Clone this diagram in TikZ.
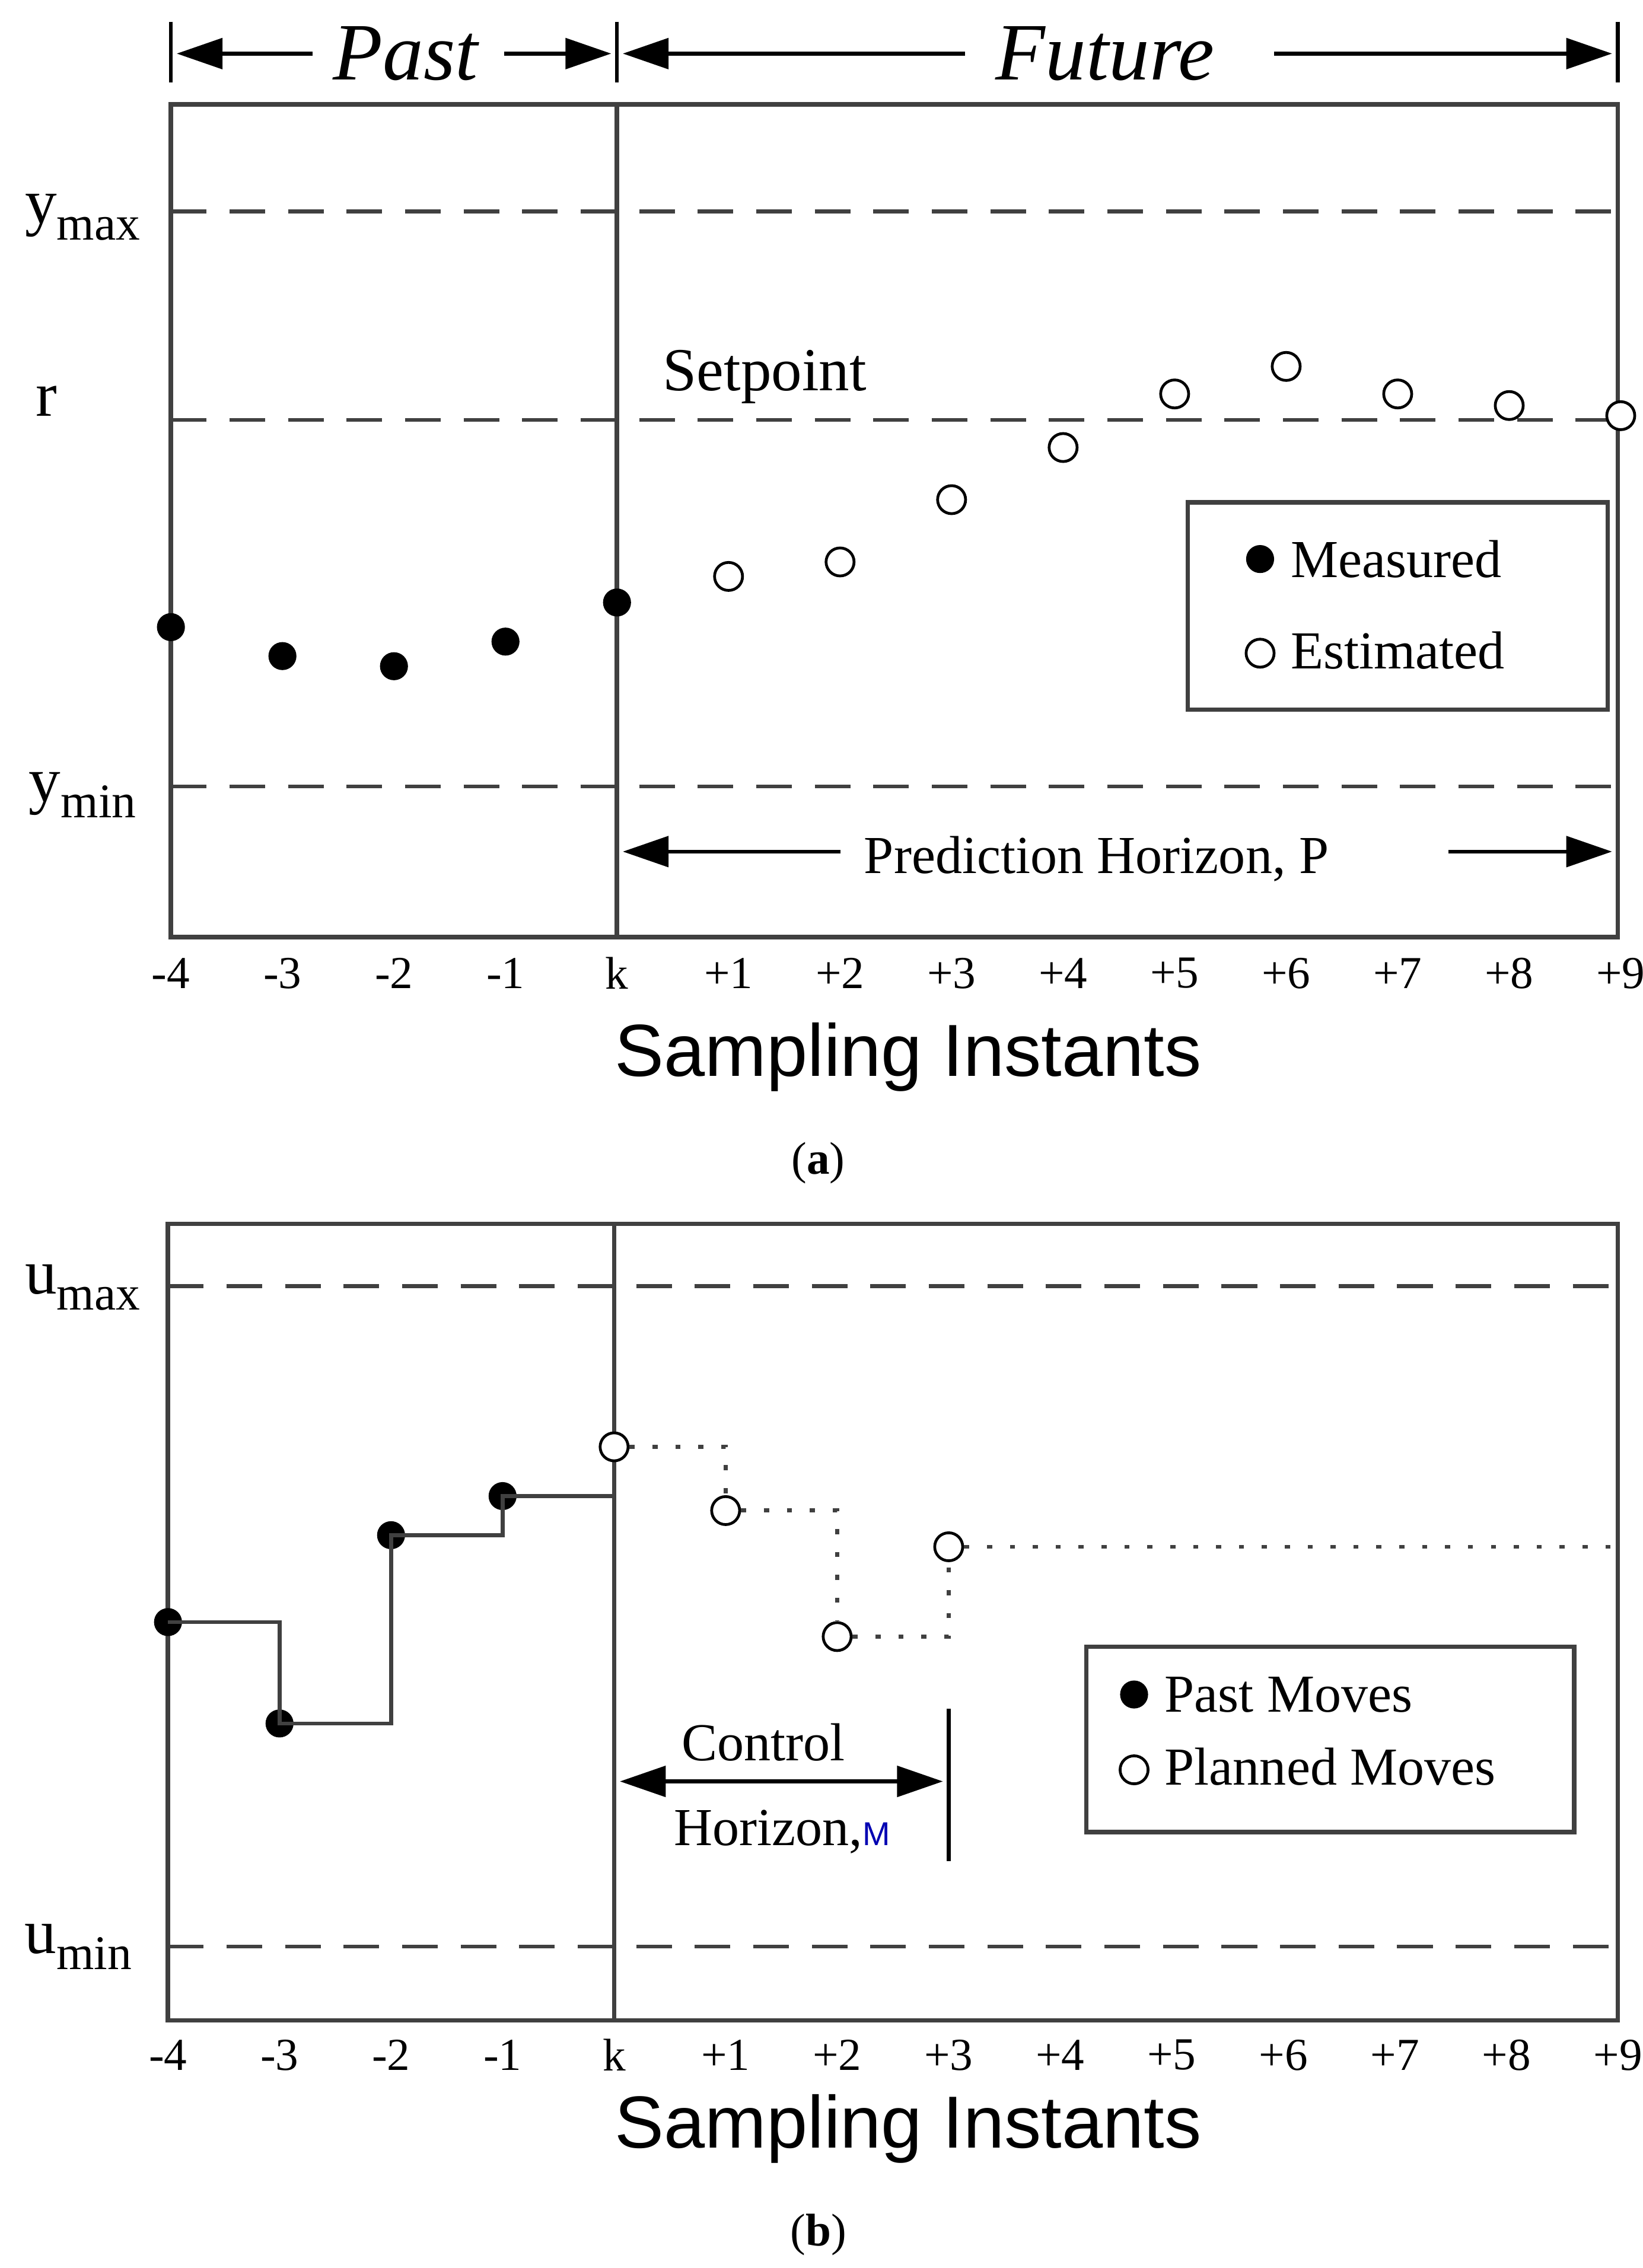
\documentclass[tikz,border=0pt]{standalone}
\usepackage{fontspec}
\setmainfont{Liberation Serif}
\newfontfamily\sansf{Liberation Sans}
\usetikzlibrary{arrows.meta}
\newcommand{\lowsub}[1]{\raisebox{-0.55ex}{\fontsize{19}{20}\selectfont #1}}
\tikzset{
  frame/.style={line width=1.8pt, draw=black!75},
  limit/.style={line width=1.5pt, dash pattern=on 14pt off 9pt, draw=black!75},
  bigarrow/.style={line width=1.5pt, -{Triangle[length=18pt,width=12pt]}},
  meas/.style={circle, fill=black, inner sep=0pt, minimum size=11pt},
  est/.style={circle, draw=black, fill=white, line width=1.1pt, inner sep=0pt, minimum size=11pt},
  tick/.style={font=\fontsize{18}{20}\selectfont},
  axis/.style={font=\sansf\fontsize{29}{32}\selectfont},
  ylab/.style={font=\fontsize{25}{28}\selectfont},
  leg/.style={font=\fontsize{21}{24}\selectfont, anchor=west},
}
\begin{document}
\begin{tikzpicture}[x=0.02cm, y=-0.02cm]
\useasboundingbox (0,0) rectangle (1134,1566);

% Upper panel
\draw[frame] (118,72) rectangle (1117,647);
\draw[frame] (426,72) -- (426,647);
\foreach \yy in {146,290,543} \draw[limit] (118,\yy) -- (1117,\yy);
\node[ylab] at (57,150) {y\lowsub{max}};
\node[ylab] at (32,277) {r};
\node[ylab] at (57,549) {y\lowsub{min}};
\node[font=\fontsize{24}{28}\selectfont] (setp) at (528,260) {Setpoint};

% Past / Future
\foreach \xx in {118,426,1117} \draw[line width=1.5pt] (\xx,15) -- (\xx,57);
\node[font=\itshape\fontsize{32}{36}\selectfont] (past) at (280,37) {Past};
\node[font=\itshape\fontsize{32}{36}\selectfont] (fut) at (763,37) {Future};
\coordinate (pl) at (122,37); \coordinate (pr) at (422,37);
\coordinate (fl) at (430,37); \coordinate (fr) at (1113,37);
\draw[bigarrow] (past.west) ++(-8,0) -- (pl);
\draw[bigarrow] (past.east) ++(12,0) -- (pr);
\draw[bigarrow] (fut.west) ++(-15,0) -- (fl);
\draw[bigarrow] (fut.east) ++(35,0) -- (fr);

% Prediction horizon
\node[font=\fontsize{21}{24}\selectfont] (pred) at (757,593) {Prediction Horizon, P};
\coordinate (hl) at (430,588); \coordinate (hr) at (1113,588);
\coordinate (hs) at (1000,588);
\draw[bigarrow] (pred.west) ++(-10,-5) -- (hl);
\draw[bigarrow] (hs) -- (hr);

% Points
\foreach \xx/\yy [count=\i] in {118/433,195/453,272/460,349/443,426/416}
  \node[meas] (m\i) at (\xx,\yy) {};
\foreach \xx/\yy [count=\i] in {503/398,580/388,657/345,734/309,811/272,888/253,965/272,1042/280,1119/287}
  \node[est] (e\i) at (\xx,\yy) {};

% Legend
\draw[frame] (820,347) rectangle (1110,490);
\node[meas] (lm) at (870,386) {};
\node[leg] at (885,386) {Measured};
\node[est] (le) at (870,451) {};
\node[leg] at (885,449) {Estimated};

\foreach \xx/\t in {118/-4,195/-3,272/-2,349/-1,426/k,503/+1,580/+2,657/+3,734/+4,811/+5,888/+6,965/+7,1042/+8,1119/+9}
  \node[tick] at (\xx,672) {\t};
\node[axis] at (627,730) {Sampling Instants};
\node[font=\fontsize{18}{20}\selectfont] at (565,803) {(\textbf{a})};

% Lower panel
\draw[frame] (116,845) rectangle (1117,1395);
\draw[frame] (424,845) -- (424,1395);
\foreach \yy in {888,1344} \draw[limit] (116,\yy) -- (1117,\yy);
\node[ylab] at (57,889) {u\lowsub{max}};
\node[ylab] at (54,1344) {u\lowsub{min}};

\foreach \xx/\yy [count=\i] in {116/1120,193/1190,270/1060,347/1033}
  \node[meas] (pm\i) at (\xx,\yy) {};
\coordinate (pk) at (424,1033);
\draw[line width=1.5pt, black!75] (pm1.center) -| (pm2.center) -| (pm3.center) -| (pm4.center) -- (pk);
\foreach \xx/\yy [count=\i] in {424/999,501/1043,578/1130,655/1068}
  \node[est] (pp\i) at (\xx,\yy) {};
\coordinate (pend) at (1117,1068);
\draw[line width=1.6pt, dash pattern=on 2pt off 7pt, black!75]
  (pp1) -| (pp2) (pp2) -| (pp3) (pp3) -| (pp4) (pp4) -- (pend);

% Control horizon
\coordinate (cl) at (428,1230); \coordinate (cr) at (651,1230);
\draw[line width=1.5pt] (655,1180) -- (655,1285);
\draw[bigarrow, {Triangle[length=18pt,width=12pt]}-{Triangle[length=18pt,width=12pt]}] (cl) -- (cr);
\node[font=\fontsize{21}{24}\selectfont, inner sep=1pt] (ctl) at (527,1203) {Control};
\node[font=\fontsize{21}{24}\selectfont] (hor) at (540,1265) {Horizon,{\sansf\fontsize{13}{14}\selectfont\color{blue!70!black}M}};

% Legend
\draw[frame] (750,1137) rectangle (1087,1265);
\node[meas] (lpm) at (783,1170) {};
\node[leg] at (798,1170) {Past Moves};
\node[est] (lpp) at (783,1222) {};
\node[leg] at (798,1220) {Planned Moves};

\foreach \xx/\t in {116/-4,193/-3,270/-2,347/-1,424/k,501/+1,578/+2,655/+3,732/+4,809/+5,886/+6,963/+7,1040/+8,1117/+9}
  \node[tick] at (\xx,1419) {\t};
\node[axis] at (627,1470) {Sampling Instants};
\node[font=\fontsize{18}{20}\selectfont] at (565,1543) {(\textbf{b})};
\end{tikzpicture}
\end{document}
